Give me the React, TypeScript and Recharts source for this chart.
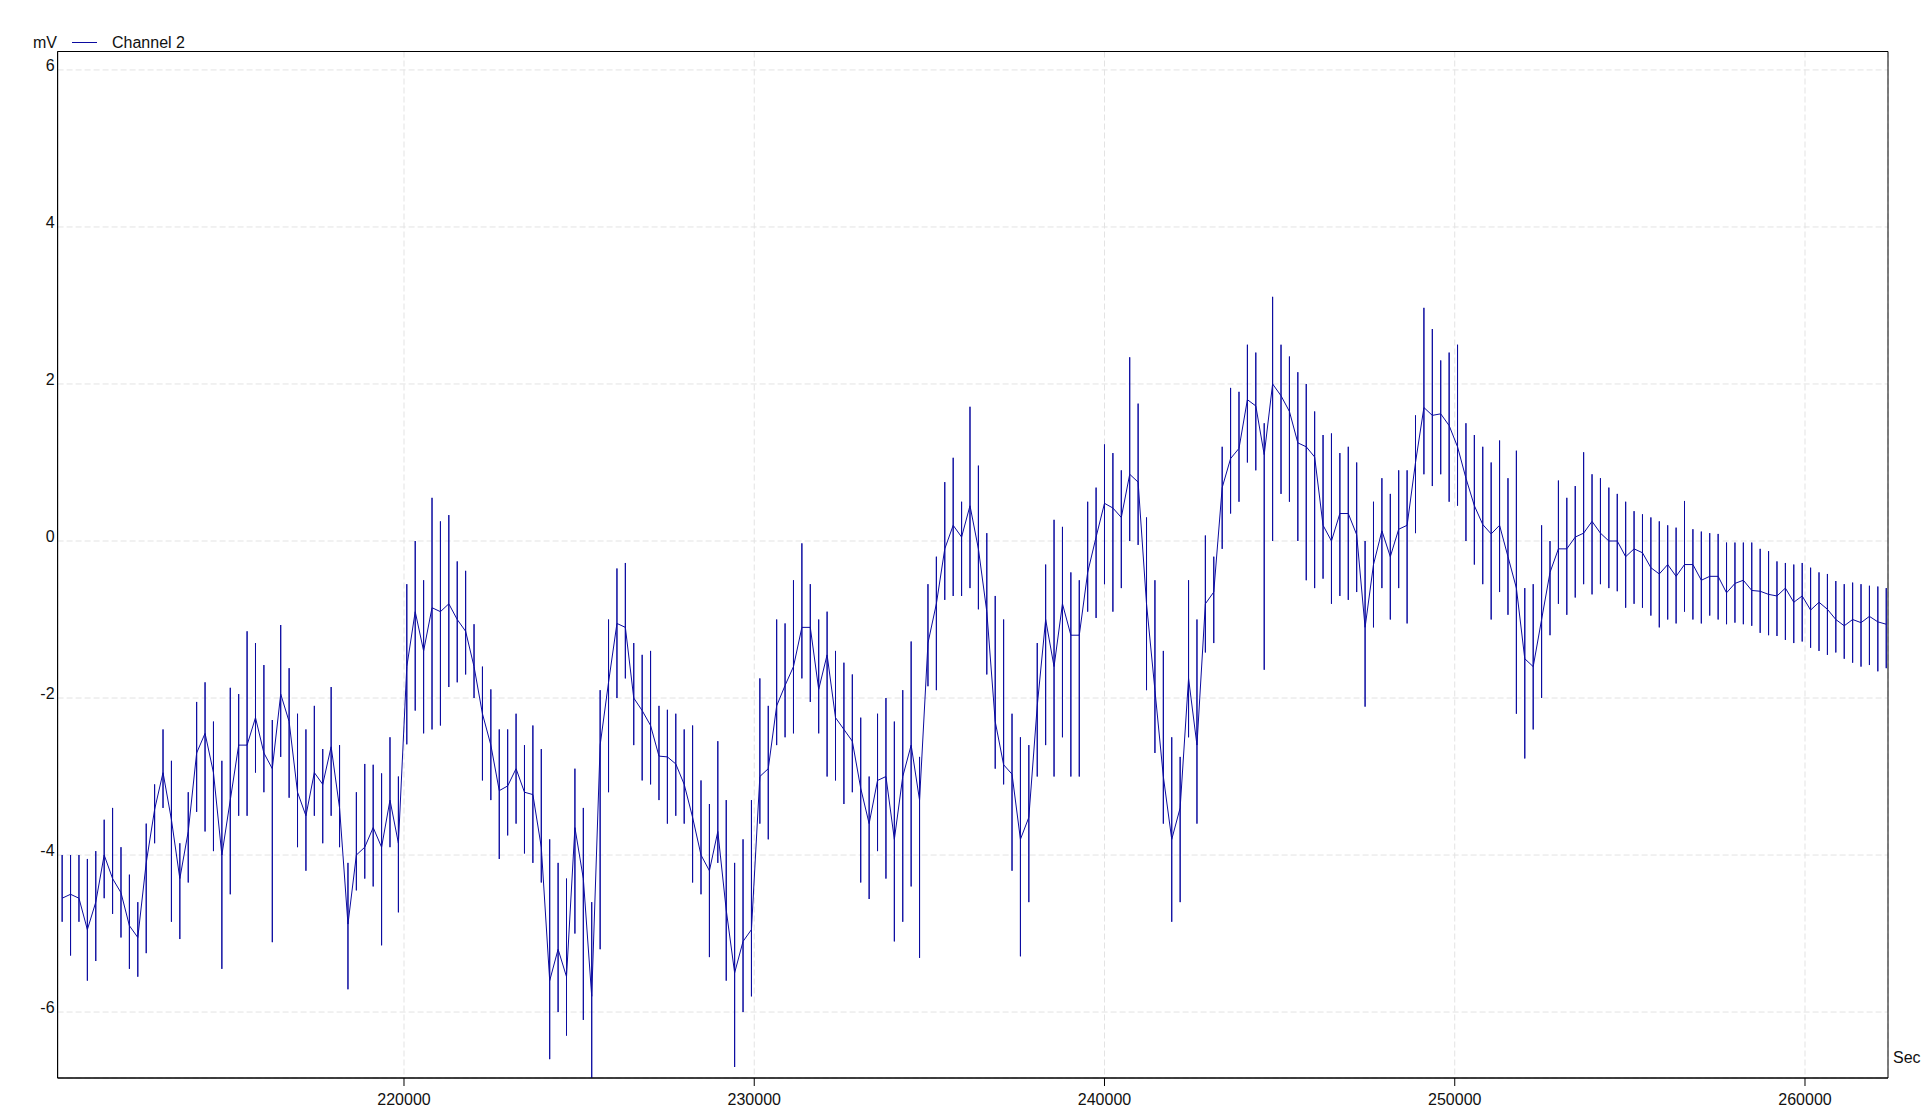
import React from 'react';
import { LineChart, Line, XAxis, YAxis, CartesianGrid, ReferenceArea } from 'recharts';

// Channel 2 recording: one sample every 240 s, each sample drawn as a spike (high/low) around the running level
const T_START = 210240;
const T_STEP = 240;

const level = [
  -4.55, -4.5, -4.55, -4.95, -4.6, -4.0, -4.3, -4.48, -4.9, -5.05,
  -4.1, -3.42, -2.95, -3.55, -4.3, -3.7, -2.7, -2.45, -2.95, -4.0,
  -3.3, -2.6, -2.6, -2.25, -2.7, -2.9, -1.95, -2.3, -3.2, -3.5,
  -2.95, -3.1, -2.62, -3.4, -4.88, -4.0, -3.9, -3.65, -3.9, -3.3,
  -3.85, -1.6, -0.9, -1.4, -0.85, -0.9, -0.8, -1.0, -1.15, -1.6,
  -2.2, -2.6, -3.18, -3.12, -2.9, -3.2, -3.23, -3.9, -5.6, -5.2,
  -5.55, -3.65, -4.3, -5.8, -2.6, -1.8, -1.05, -1.1, -2.0, -2.16,
  -2.35, -2.74, -2.75, -2.84, -3.1, -3.52, -4.0, -4.2, -3.7, -4.7,
  -5.5, -5.1, -4.95, -3.0, -2.9, -2.1, -1.84, -1.6, -1.1, -1.1,
  -1.89, -1.45, -2.25, -2.4, -2.55, -3.15, -3.6, -3.05, -3.0, -3.8,
  -3.0, -2.6, -3.3, -1.3, -0.8, -0.1, 0.2, 0.05, 0.45, -0.1,
  -0.9, -2.3, -2.85, -2.97, -3.8, -3.52, -2.1, -1.0, -1.6, -0.8,
  -1.2, -1.2, -0.4, 0.05, 0.48, 0.42, 0.3, 0.85, 0.75, -0.8,
  -1.9, -3.0, -3.8, -3.4, -1.75, -2.6, -0.8, -0.65, 0.68, 1.05,
  1.18, 1.8, 1.72, 1.1, 2.0, 1.85, 1.65, 1.25, 1.2, 1.07,
  0.2, 0.0, 0.35, 0.35, 0.08, -1.1, -0.3, 0.13, -0.2, 0.15,
  0.2, 1.0, 1.7, 1.6, 1.62, 1.47, 1.2, 0.8, 0.45, 0.21,
  0.09, 0.2, -0.2, -0.6, -1.5, -1.6, -1.0, -0.4, -0.1, -0.1,
  0.05, 0.1, 0.25, 0.1, 0.0, 0.0, -0.2, -0.1, -0.15, -0.34,
  -0.42, -0.3, -0.45, -0.3, -0.3, -0.5, -0.45, -0.45, -0.66, -0.54,
  -0.5, -0.63, -0.64, -0.68, -0.7, -0.6, -0.78, -0.7, -0.88, -0.78,
  -0.87, -1.0, -1.08, -1.0, -1.04, -0.96, -1.03, -1.06,
];

const high = [
  -4.0, -4.0, -4.0, -4.05, -3.95, -3.55, -3.4, -3.9, -4.25, -4.6,
  -3.6, -3.1, -2.4, -2.8, -3.85, -3.2, -2.05, -1.8, -2.3, -2.8,
  -1.87, -1.95, -1.15, -1.3, -1.58, -2.28, -1.07, -1.62, -2.2, -2.4,
  -2.1, -2.65, -1.86, -2.6, -4.1, -3.2, -2.84, -2.85, -2.96, -2.5,
  -3.0, -0.55, 0.0, -0.5, 0.55, 0.25, 0.33, -0.26, -0.38, -1.06,
  -1.6, -1.89, -2.4, -2.4, -2.2, -2.6, -2.35, -2.65, -3.8, -4.1,
  -4.3, -2.9, -3.4, -4.6, -1.9, -1.0, -0.35, -0.28, -1.3, -1.45,
  -1.4, -2.1, -2.15, -2.2, -2.4, -2.35, -3.05, -3.35, -2.55, -3.3,
  -4.1, -3.8, -3.3, -1.75, -2.1, -1.0, -1.05, -0.5, -0.03, -0.55,
  -1.0, -0.9, -1.4, -1.55, -1.7, -2.25, -3.0, -2.2, -2.0, -2.3,
  -1.9, -1.28, -2.75, -0.55, -0.2, 0.75, 1.06, 0.5, 1.71, 0.96,
  0.1, -0.7, -1.0, -2.2, -2.5, -2.6, -1.3, -0.3, 0.27, 0.18,
  -0.4, -0.5, 0.5, 0.68, 1.23, 1.12, 0.9, 2.34, 1.75, 0.3,
  -0.5, -1.4, -2.5, -2.75, -0.5, -1.0, 0.07, -0.2, 1.2, 1.95,
  1.9, 2.5, 2.4, 1.5, 3.11, 2.5, 2.35, 2.15, 2.0, 1.65,
  1.35, 1.37, 1.12, 1.2, 1.0, 0.0, 0.5, 0.8, 0.6, 0.9,
  0.9, 1.6, 2.97, 2.7, 2.3, 2.4, 2.5, 1.5, 1.35, 1.2,
  1.0, 1.28, 0.8, 1.15, -0.6, -0.55, 0.2, 0.0, 0.77, 0.55,
  0.7, 1.13, 0.85, 0.8, 0.68, 0.6, 0.5, 0.38, 0.34, 0.3,
  0.25, 0.2, 0.17, 0.51, 0.15, 0.12, 0.1, 0.09, -0.02, -0.02,
  -0.02, -0.02, -0.1, -0.13, -0.26, -0.28, -0.3, -0.28, -0.34, -0.4,
  -0.42, -0.51, -0.55, -0.53, -0.55, -0.57, -0.58, -0.6,
];

const low = [
  -4.85, -5.28, -4.85, -5.6, -5.35, -4.55, -4.75, -5.05, -5.45, -5.55,
  -5.25, -3.85, -3.4, -4.85, -5.07, -4.35, -3.45, -3.7, -3.95, -5.45,
  -4.5, -3.5, -3.5, -2.95, -3.2, -5.11, -2.75, -3.27, -3.9, -4.2,
  -3.5, -3.85, -3.5, -3.9, -5.71, -4.45, -4.3, -4.4, -5.15, -3.9,
  -4.73, -2.59, -2.16, -2.45, -2.4, -2.35, -1.86, -1.8, -1.7, -2.0,
  -3.05, -3.3, -4.05, -3.75, -3.6, -3.98, -4.1, -4.35, -6.6, -6.0,
  -6.3, -5.0, -6.1, -6.87, -5.2, -3.2, -2.0, -1.75, -2.6, -3.05,
  -3.1, -3.3, -3.6, -3.5, -3.6, -4.35, -4.5, -5.3, -4.1, -5.6,
  -6.7, -6.0, -5.8, -3.6, -3.8, -2.6, -2.5, -2.45, -1.75, -2.05,
  -2.45, -3.0, -3.05, -3.35, -3.2, -4.35, -4.56, -3.95, -4.3, -5.1,
  -4.85, -4.4, -5.31, -1.85, -1.9, -0.75, -0.7, -0.7, -0.6, -0.87,
  -1.7, -2.9, -3.1, -4.2, -5.29, -4.6, -3.0, -2.6, -3.0, -2.5,
  -3.0, -3.0, -0.9, -0.98, -0.55, -0.9, -0.6, 0.0, -0.05, -1.9,
  -2.7, -3.6, -4.85, -4.6, -2.5, -3.6, -1.42, -1.3, -0.1, 0.35,
  0.5, 1.0, 0.9, -1.64, 0.0, 0.6, 0.5, 0.0, -0.5, -0.6,
  -0.48, -0.8, -0.7, -0.75, -0.65, -2.11, -1.1, -0.6, -1.0, -0.6,
  -1.05, 0.1, 0.85, 0.7, 0.85, 0.5, 0.45, 0.0, -0.3, -0.55,
  -1.0, -0.65, -0.94, -2.2, -2.77, -2.4, -2.0, -1.2, -0.8, -0.94,
  -0.72, -0.55, -0.68, -0.55, -0.6, -0.64, -0.85, -0.8, -0.85, -0.95,
  -1.1, -1.0, -1.05, -0.9, -1.0, -1.05, -0.95, -1.0, -1.06, -1.04,
  -1.06, -1.08, -1.17, -1.2, -1.21, -1.26, -1.3, -1.28, -1.36, -1.4,
  -1.45, -1.42, -1.5, -1.55, -1.6, -1.58, -1.66, -1.62,
];

const xTicks = [220000, 230000, 240000, 250000, 260000];
const yTicks = [-6, -4, -2, 0, 2, 4, 6];
const X_DOMAIN: [number, number] = [210110, 262370];
const Y_DOMAIN: [number, number] = [-6.84, 6.235];

const FONT = '"Liberation Sans", Arial, sans-serif';
const LINE_COLOR = '#0b0ba0';

// each sample: level -> high -> low -> level, all at the same time stamp
const trace: { t: number; mV: number }[] = [];
level.forEach((v, i) => {
  const t = T_START + i * T_STEP;
  trace.push({ t, mV: v }, { t, mV: high[i] }, { t, mV: low[i] }, { t, mV: v });
});

const YTick = (props: any) => {
  const { x, y, payload } = props;
  return (
    <text x={x} y={y - 5} dy="0.355em" textAnchor="end" fontSize={16} fontFamily={FONT} fill="#111">
      {payload.value}
    </text>
  );
};

const App: React.FC = () => {
  return (
    <div style={{ position: 'absolute', left: 0, top: 0, width: 1921, height: 1120, background: '#fff', fontFamily: FONT }}>
      <LineChart width={1921} height={1120} data={trace} margin={{ top: 51.5, right: 33, left: 0, bottom: 0 }}>
        <CartesianGrid stroke="#e3e3e3" strokeDasharray="6 3" />
        <XAxis
          dataKey="t"
          type="number"
          domain={X_DOMAIN}
          ticks={xTicks}
          allowDataOverflow
          height={42}
          axisLine={{ stroke: '#000' }}
          tickLine={{ stroke: '#000' }}
          tickSize={8}
          tickMargin={8}
          tick={{ fontSize: 16, fill: '#111', fontFamily: FONT }}
        />
        <YAxis
          type="number"
          domain={Y_DOMAIN}
          ticks={yTicks}
          allowDataOverflow
          width={57.6}
          axisLine={{ stroke: '#000' }}
          tickLine={false}
          tickSize={0}
          tickMargin={3}
          tick={<YTick />}
        />
        <ReferenceArea
          x1={X_DOMAIN[0]}
          x2={X_DOMAIN[1]}
          y1={Y_DOMAIN[0]}
          y2={Y_DOMAIN[1]}
          fill="none"
          fillOpacity={0}
          stroke="#000"
          strokeWidth={1}
        />
        <Line
          type="linear"
          dataKey="mV"
          stroke={LINE_COLOR}
          strokeWidth={1}
          dot={false}
          activeDot={false}
          isAnimationActive={false}
        />
      </LineChart>

      <div style={{ position: 'absolute', left: 33, top: 34.5, fontSize: 16, lineHeight: '16px', color: '#111' }}>mV</div>
      <div style={{ position: 'absolute', left: 72, top: 42, width: 25, height: 1, background: LINE_COLOR }} />
      <div style={{ position: 'absolute', left: 112, top: 34.5, fontSize: 16, lineHeight: '16px', color: '#111' }}>Channel 2</div>
      <div style={{ position: 'absolute', left: 1893, top: 1050, fontSize: 16, lineHeight: '16px', color: '#111', whiteSpace: 'nowrap' }}>Sec</div>
    </div>
  );
};

export default App;
